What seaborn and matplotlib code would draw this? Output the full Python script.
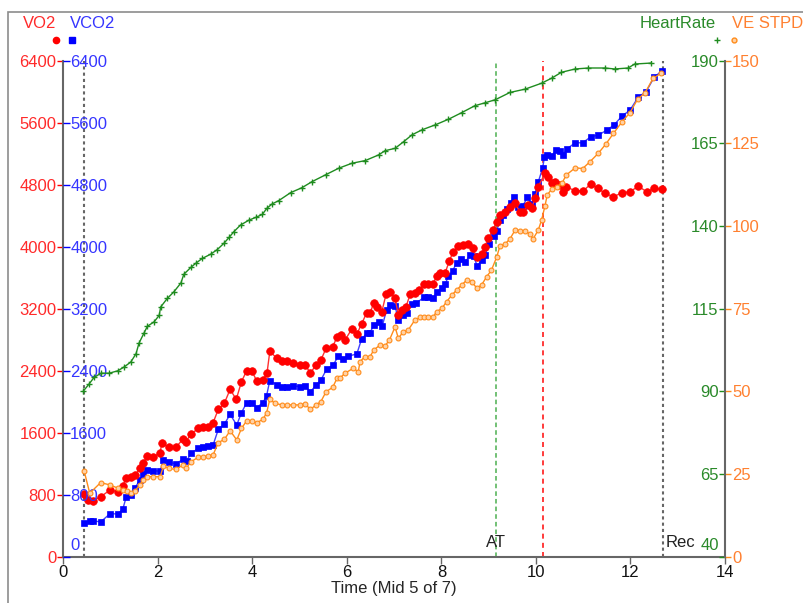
# -*- coding: utf-8 -*-
"""
Exercise test chart: VO2 / VCO2 / HeartRate / VE STPD over time
"""

import matplotlib
matplotlib.use("Agg")
import matplotlib.pyplot as plt
import matplotlib.transforms as mtransforms
from matplotlib.lines import Line2D
from matplotlib.patches import Rectangle
import seaborn as sns

# ============================================================
# Data
# ============================================================
hr_t = [0.42, 0.55, 0.65, 0.80, 0.97, 1.15, 1.29, 1.43, 1.54, 1.60, 1.71, 1.78, 1.92,
        2.03, 2.06, 2.20, 2.34, 2.49, 2.55, 2.70, 2.80, 2.94, 3.12, 3.26, 3.40, 3.51,
        3.61, 3.75, 3.93, 4.07, 4.21, 4.31, 4.42, 4.56, 4.81, 5.05, 5.26, 5.55, 5.83,
        6.11, 6.39, 6.67, 6.81, 7.02, 7.20, 7.38, 7.59, 7.87, 8.15, 8.43, 8.71, 8.93,
        9.14, 9.45, 9.77, 10.12, 10.33, 10.54, 10.83, 11.11, 11.46, 11.67, 11.95,
        12.09, 12.44]
hr = [90.0, 92.3, 94.2, 95.5, 95.5, 96.2, 97.4, 98.9, 101.4, 104.5, 107.7, 109.7, 111.0,
      113.0, 115.5, 118.1, 120.1, 122.8, 125.4, 127.5, 128.7, 130.2, 131.5, 132.9, 134.8,
      136.6, 138.3, 140.3, 141.8, 142.6, 143.5, 145.4, 146.7, 147.7, 150.1, 151.6, 153.4,
      155.5, 157.5, 159.0, 159.8, 161.5, 162.8, 163.5, 165.5, 167.6, 169.1, 170.6, 172.3,
      174.3, 176.4, 177.3, 178.2, 180.4, 181.4, 183.2, 184.7, 186.5, 187.5, 187.8, 187.8,
      187.5, 187.8, 189.0, 189.3]

vo2_t = [0.44, 0.53, 0.63, 0.79, 0.99, 1.16, 1.26, 1.33, 1.43, 1.52, 1.62, 1.69, 1.78,
         1.89, 2.05, 2.08, 2.24, 2.38, 2.53, 2.60, 2.70, 2.86, 2.96, 3.07, 3.17, 3.28,
         3.41, 3.53, 3.66, 3.77, 3.88, 3.99, 4.09, 4.22, 4.31, 4.37, 4.52, 4.62, 4.73,
         4.87, 5.01, 5.11, 5.23, 5.35, 5.45, 5.56, 5.70, 5.80, 5.87, 5.96, 6.10, 6.21,
         6.31, 6.42, 6.49, 6.57, 6.64, 6.74, 6.83, 6.91, 7.02, 7.09, 7.16, 7.25, 7.34,
         7.44, 7.53, 7.63, 7.72, 7.82, 7.90, 7.97, 8.08, 8.17, 8.25, 8.36, 8.45, 8.57,
         8.66, 8.75, 8.85, 8.92, 8.99, 9.09, 9.17, 9.24, 9.35, 9.45, 9.56, 9.66, 9.73,
         9.84, 9.91, 9.98, 10.05, 10.19, 10.26, 10.33, 10.40, 10.51, 10.58, 10.64, 10.83,
         11.00, 11.16, 11.32, 11.46, 11.64, 11.82, 11.99, 12.17, 12.34, 12.50, 12.66]
vo2 = [810, 731, 722, 774, 860, 839, 912, 1011, 1024, 1054, 1140, 1205, 1303,
       1290, 1334, 1463, 1411, 1411, 1514, 1484, 1583, 1656, 1669, 1677, 1729, 1901,
       1983, 2159, 2030, 2258, 2399, 2399, 2270, 2276, 2366, 2650, 2559, 2528, 2528,
       2495, 2473, 2473, 2374, 2473, 2537, 2688, 2712, 2841, 2860, 2795, 2933, 2869,
       3002, 3148, 3148, 3269, 3225, 3161, 3389, 3419, 3333, 3118, 3182, 3225, 3385,
       3398, 3440, 3514, 3514, 3514, 3621, 3656, 3664, 3818, 3935, 4008, 4021, 4035,
       3982, 3866, 3905, 4000, 4107, 4214, 4322, 4408, 4451, 4515, 4559, 4451, 4451,
       4537, 4494, 4623, 4773, 4946, 4894, 4825, 4838, 4795, 4709, 4773, 4721,
       4721, 4808, 4752, 4688, 4644, 4696, 4709, 4782, 4709, 4752, 4740]

vco2_t = [0.44, 0.56, 0.63, 0.79, 0.99, 1.16, 1.26, 1.33, 1.43, 1.52, 1.62, 1.69, 1.78,
          1.89, 2.05, 2.12, 2.24, 2.38, 2.53, 2.61, 2.70, 2.86, 2.96, 3.07, 3.17, 3.28,
          3.41, 3.53, 3.67, 3.77, 3.88, 3.99, 4.09, 4.22, 4.30, 4.37, 4.53, 4.62, 4.73,
          4.87, 5.01, 5.11, 5.23, 5.35, 5.45, 5.57, 5.71, 5.82, 5.92, 6.03, 6.21, 6.31,
          6.42, 6.49, 6.57, 6.67, 6.75, 6.84, 6.91, 7.02, 7.09, 7.19, 7.27, 7.37, 7.46,
          7.63, 7.72, 7.82, 7.91, 8.01, 8.08, 8.15, 8.24, 8.32, 8.41, 8.51, 8.61, 8.68,
          8.76, 8.85, 8.92, 9.01, 9.11, 9.17, 9.24, 9.31, 9.39, 9.47, 9.54, 9.63, 9.72,
          9.82, 9.91, 9.98, 10.05, 10.14, 10.18, 10.24, 10.33, 10.43, 10.51, 10.58, 10.65,
          10.83, 10.99, 11.16, 11.32, 11.50, 11.65, 11.82, 11.99, 12.17, 12.33, 12.50, 12.66]
vco2 = [439, 461, 464, 448, 555, 551, 615, 766, 796, 890, 989, 1063, 1118,
        1106, 1106, 1247, 1222, 1196, 1256, 1235, 1334, 1398, 1411, 1428, 1441, 1643,
        1712, 1837, 1699, 1858, 1987, 1989, 1925, 1983, 2073, 2273, 2215, 2193, 2193,
        2206, 2193, 2206, 2129, 2215, 2279, 2417, 2473, 2589, 2546, 2589, 2615, 2804,
        2882, 2890, 2989, 3032, 2980, 3182, 3247, 3234, 3053, 3118, 3140, 3260, 3269,
        3346, 3354, 3333, 3419, 3462, 3518, 3621, 3689, 3793, 3836, 3806, 3892, 3879,
        3750, 3827, 3892, 4034, 4137, 4205, 4343, 4408, 4481, 4567, 4644, 4515, 4524,
        4636, 4550, 4679, 4838, 5010, 5152, 5182, 5169, 5246, 5237, 5182, 5259,
        5341, 5341, 5418, 5440, 5504, 5569, 5685, 5762, 5934, 5999, 6184, 6269]

ve_t = [0.44, 0.56, 0.79, 0.99, 1.16, 1.26, 1.34, 1.43, 1.52, 1.62, 1.69, 1.78, 1.89,
        2.05, 2.12, 2.24, 2.38, 2.53, 2.60, 2.70, 2.86, 2.96, 3.07, 3.17, 3.28, 3.41,
        3.53, 3.67, 3.77, 3.88, 3.99, 4.09, 4.22, 4.30, 4.37, 4.48, 4.62, 4.73, 4.87,
        5.01, 5.11, 5.23, 5.35, 5.45, 5.56, 5.70, 5.79, 5.85, 5.96, 6.14, 6.24, 6.28,
        6.38, 6.49, 6.57, 6.70, 6.81, 6.90, 7.02, 7.09, 7.19, 7.30, 7.44, 7.55, 7.63,
        7.72, 7.83, 7.90, 8.01, 8.11, 8.22, 8.32, 8.43, 8.54, 8.64, 8.75, 8.85, 8.96,
        9.06, 9.17, 9.24, 9.35, 9.45, 9.56, 9.66, 9.77, 9.87, 9.94, 10.05, 10.12, 10.19,
        10.24, 10.33, 10.44, 10.55, 10.64, 10.83, 10.99, 11.14, 11.32, 11.48, 11.64,
        11.82, 11.99, 12.15, 12.31, 12.48, 12.65]
ve = [26.0, 19.2, 22.4, 21.7, 20.7, 20.2, 20.0, 19.4, 20.0, 21.7, 23.2, 24.2, 24.2,
      24.2, 27.4, 26.7, 26.4, 27.7, 26.7, 28.7, 30.1, 30.2, 30.5, 30.8, 34.5, 35.5,
      38.1, 35.3, 38.8, 41.1, 41.1, 40.5, 41.5, 43.4, 47.6, 46.4, 45.9, 45.9, 45.9,
      45.9, 46.2, 44.6, 45.9, 46.9, 49.9, 51.2, 53.9, 53.9, 55.5, 57.0, 55.9, 59.0,
      60.5, 60.5, 62.5, 64.0, 63.8, 65.5, 69.5, 66.0, 68.0, 68.6, 71.6, 72.4, 72.6,
      72.6, 72.6, 74.1, 75.1, 77.1, 79.1, 80.6, 82.2, 83.7, 83.2, 81.2, 82.2, 84.7,
      86.7, 90.6, 94.0, 94.6, 96.1, 98.8, 98.6, 98.5, 97.6, 96.1, 98.8, 101.8, 106.0,
      109.4, 111.1, 111.9, 112.9, 115.4, 117.6, 117.4, 119.4, 122.0, 124.8, 128.0,
      131.5, 134.3, 138.3, 140.3, 144.7, 146.2]

gas_ticks = [0, 800, 1600, 2400, 3200, 4000, 4800, 5600, 6400]
hr_ticks = [40, 65, 90, 115, 140, 165, 190]
ve_ticks = [0, 25, 50, 75, 100, 125, 150]
x_ticks = [0, 2, 4, 6, 8, 10, 12, 14]

# event markers (minutes)
ex_start, at_time, rc_time, rec_time = 0.44, 9.155, 10.16, 12.69

# ============================================================
# Style
# ============================================================
sns.set_style("white")
plt.rcParams["font.family"] = ["Liberation Sans", "DejaVu Sans"]
plt.rcParams["font.size"] = 12

RED = "#ff0000"
BLUE = "#0000ff"
GREEN = "#1f8c1f"
ORANGE = "#ff8c1a"
RED_T = "#ff2a2a"
BLUE_T = "#3535ff"
GREEN_T = "#2a8a2a"
ORANGE_T = "#ff8030"
SPINE = "#666666"

fig = plt.figure(figsize=(8.04, 6.03), dpi=100)
ax = fig.add_axes([0.0787, 0.0768, 0.8230, 0.8225])

# ============================================================
# VO2 / VCO2 on the main axis
# ============================================================
sns.lineplot(x=vco2_t, y=vco2, ax=ax, color="#4040ff", linewidth=1, sort=False,
             estimator=None, marker="s", markersize=5, markerfacecolor=BLUE,
             markeredgecolor=BLUE, markeredgewidth=0.5)
sns.lineplot(x=vo2_t, y=vo2, ax=ax, color="#ff3030", linewidth=1, sort=False,
             estimator=None, marker="o", markersize=5.5, markerfacecolor=RED,
             markeredgecolor=RED, markeredgewidth=0.5)

# event lines
ax.axvline(ex_start, color=SPINE, lw=1.5, ls=(0, (1.5, 1.5)), zorder=1)
ax.axvline(at_time, color="#4caf50", lw=1.1, ls=(0, (3, 2)), zorder=1)
ax.axvline(rc_time, color="#ff1a1a", lw=1.2, ls=(0, (3, 2.5)), zorder=1)
ax.axvline(rec_time, color=SPINE, lw=1.5, ls=(0, (1.5, 1.5)), zorder=1)
ax.text(at_time, 177, "AT", ha="center", va="center", fontsize=12, color="#222222")
ax.text(rec_time + 0.06, 177, "Rec", ha="left", va="center", fontsize=12, color="#222222")

ax.set_xlim(0, 14)
ax.set_ylim(0, 6400)
ax.set_xticks(x_ticks)
ax.set_yticks(gas_ticks)
ax.set_xlabel("Time (Mid 5 of 7)", fontsize=12, labelpad=1)
ax.set_ylabel("")
ax.tick_params(axis="x", direction="out", length=5, width=1, color=SPINE,
               labelcolor="#111111", labelsize=12, pad=1, bottom=True)
ax.tick_params(axis="y", direction="out", length=4, width=1, color=RED,
               labelcolor=RED_T, labelsize=12, pad=1, left=True)
for side in ["top", "right"]:
    ax.spines[side].set_visible(False)
for side in ["left", "bottom"]:
    ax.spines[side].set_color(SPINE)
    ax.spines[side].set_linewidth(1.5)

shift_up = mtransforms.ScaledTranslation(0, 13 / 100, fig.dpi_scale_trans)

# blue VCO2 labels just inside the left spine
ax_b = ax.twinx()
ax_b.set_ylim(0, 6400)
ax_b.yaxis.tick_left()
ax_b.set_yticks(gas_ticks)
ax_b.tick_params(axis="y", direction="in", length=5, width=1, color=BLUE,
                 labelcolor=BLUE_T, labelsize=12, pad=-5, left=True, right=False,
                 labelleft=True, labelright=False)
for lab in ax_b.get_yticklabels():
    lab.set_horizontalalignment("left")
zero_lab = ax_b.get_yticklabels()[0]
zero_lab.set_transform(zero_lab.get_transform() + shift_up)
for s in ax_b.spines.values():
    s.set_visible(False)

# ============================================================
# Heart rate (green, labels inside right spine)
# ============================================================
ax_hr = ax.twinx()
sns.lineplot(x=hr_t, y=hr, ax=ax_hr, color=GREEN, linewidth=1, sort=False,
             estimator=None, marker="+", markersize=4.5, markeredgecolor=GREEN,
             markeredgewidth=1)
ax_hr.set_ylim(40, 190)
ax_hr.set_yticks(hr_ticks)
ax_hr.set_ylabel("")
ax_hr.tick_params(axis="y", direction="in", length=4.5, width=1, color=GREEN,
                  labelcolor=GREEN_T, labelsize=12, pad=-4.5, right=True, left=False,
                  labelright=True, labelleft=False)
for lab in ax_hr.get_yticklabels():
    lab.set_horizontalalignment("right")
zero_lab = ax_hr.get_yticklabels()[0]
zero_lab.set_transform(zero_lab.get_transform() + shift_up)
for s in ax_hr.spines.values():
    s.set_visible(False)

# ============================================================
# VE STPD (orange, labels outside right spine)
# ============================================================
ax_ve = ax.twinx()
sns.lineplot(x=ve_t, y=ve, ax=ax_ve, color=ORANGE, linewidth=1, sort=False,
             estimator=None, marker="o", markersize=3.5, markerfacecolor="#ffd2a6",
             markeredgecolor=ORANGE, markeredgewidth=0.8)
ax_ve.set_ylim(0, 150)
ax_ve.set_yticks(ve_ticks)
ax_ve.set_ylabel("")
ax_ve.tick_params(axis="y", direction="out", length=4, width=1, color=ORANGE,
                  labelcolor=ORANGE_T, labelsize=12, pad=1, right=True, left=False,
                  labelright=True, labelleft=False)
for side, s in ax_ve.spines.items():
    s.set_visible(side == "right")
ax_ve.spines["right"].set_color(SPINE)
ax_ve.spines["right"].set_linewidth(1.5)

# ============================================================
# Legend texts and outer frame
# ============================================================
W, H = 804.0, 603.0
fig.text(23 / W, 1 - 24 / H, "VO2", color=RED_T, fontsize=12, va="center")
fig.text(70 / W, 1 - 24 / H, "VCO2", color=BLUE_T, fontsize=12, va="center")
fig.text(640 / W, 1 - 24 / H, "HeartRate", color=GREEN_T, fontsize=12, va="center")
fig.text(732 / W, 1 - 24 / H, "VE STPD", color=ORANGE_T, fontsize=12, va="center")
fig.add_artist(Line2D([56 / W], [1 - 40 / H], marker="o", ls="none", markersize=4.5,
                      color=RED, transform=fig.transFigure))
fig.add_artist(Line2D([72 / W], [1 - 40 / H], marker="s", ls="none", markersize=4,
                      color=BLUE, transform=fig.transFigure))
fig.add_artist(Line2D([717 / W], [1 - 40 / H], marker="+", ls="none", markersize=4,
                      markeredgewidth=1, color=GREEN, transform=fig.transFigure))
fig.add_artist(Line2D([734 / W], [1 - 40 / H], marker="o", ls="none", markersize=3.5,
                      markerfacecolor="#ffd2a6", markeredgecolor=ORANGE,
                      transform=fig.transFigure))
fig.add_artist(Rectangle((8 / W, -0.1), 1.0, 1 - 12 / H + 0.1, fill=False,
                         edgecolor="#8c8c8c", lw=1.2, transform=fig.transFigure))

fig.savefig("out.png", dpi=100)
